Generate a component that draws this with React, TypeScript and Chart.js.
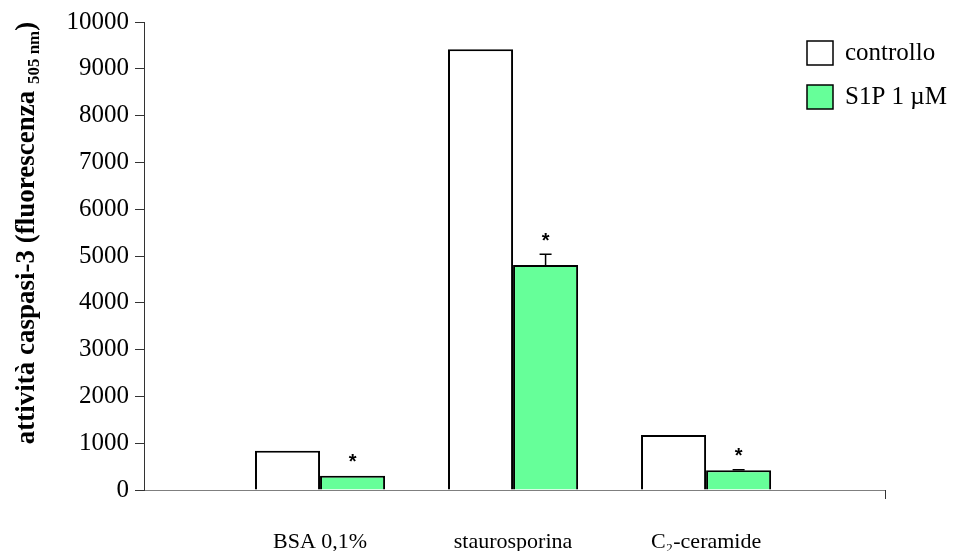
import React, { useEffect, useRef } from 'react';
import { Chart, registerables } from 'chart.js';

Chart.register(...registerables);

// Treatments along the x axis
const categories = ['BSA 0,1%', 'staurosporina', 'C₂-ceramide'];
// Series
const seriesLabels = ['controllo', 'S1P 1 µM'];
const controlloValues = [840, 9420, 1175];
const s1pValues = [305, 4810, 420];
const s1pErrors = [0, 230, 12];
const s1pSignificant = [true, true, true];
// Y axis range
const yMin = 0;
const yMax = 10000;
const yStep = 1000;

const SERIF = '"Liberation Serif", "Times New Roman", serif';
const GREEN = '#66ff99';

const overlayPlugin = {
  id: 'overlay',
  afterDatasetsDraw(chart: any) {
    const ctx = chart.ctx;
    const y = chart.scales.y;
    const meta = chart.getDatasetMeta(1);
    ctx.save();
    meta.data.forEach((bar: any, i: number) => {
      const top = y.getPixelForValue(s1pValues[i] + s1pErrors[i]);
      const base = y.getPixelForValue(s1pValues[i]);
      if (s1pErrors[i] > 0) {
        ctx.strokeStyle = '#000';
        ctx.lineWidth = 1.5;
        ctx.beginPath();
        ctx.moveTo(bar.x, base);
        ctx.lineTo(bar.x, top);
        ctx.moveTo(bar.x - 6, top);
        ctx.lineTo(bar.x + 6, top);
        ctx.stroke();
      }
      if (s1pSignificant[i]) {
        ctx.fillStyle = '#000';
        ctx.font = 'bold 20px "Liberation Sans", Arial, sans-serif';
        ctx.textAlign = 'center';
        ctx.textBaseline = 'middle';
        ctx.fillText('*', bar.x, top - 13);
      }
    });
    ctx.restore();
  },
  afterDraw(chart: any) {
    const ctx = chart.ctx;
    const area = chart.chartArea;
    ctx.save();
    // closing tick at the right end of the x axis
    ctx.strokeStyle = '#333';
    ctx.lineWidth = 1;
    ctx.beginPath();
    ctx.moveTo(Math.round(area.right) + 0.5, area.bottom);
    ctx.lineTo(Math.round(area.right) + 0.5, area.bottom + 9);
    ctx.stroke();

    // legend
    const fills = ['#ffffff', GREEN];
    seriesLabels.forEach((label, i) => {
      const bx = 807;
      const by = 41 + i * 44;
      ctx.fillStyle = fills[i];
      ctx.fillRect(bx, by, 26, 24);
      ctx.strokeStyle = '#000';
      ctx.lineWidth = 1.5;
      ctx.strokeRect(bx, by, 26, 24);
      ctx.fillStyle = '#000';
      ctx.font = `25px ${SERIF}`;
      ctx.textAlign = 'left';
      ctx.textBaseline = 'middle';
      ctx.fillText(label, 845, by + 12);
    });

    // rotated y axis title with subscript
    const mainFont = `bold 27px ${SERIF}`;
    const subFont = `bold 17px ${SERIF}`;
    const parts = [
      { t: 'attività caspasi-3 (fluorescenza ', f: mainFont, dy: 0 },
      { t: '505 nm', f: subFont, dy: 5 },
      { t: ')', f: mainFont, dy: 0 },
    ];
    let total = 0;
    parts.forEach((p) => {
      ctx.font = p.f;
      total += ctx.measureText(p.t).width;
    });
    ctx.translate(34, 233);
    ctx.rotate(-Math.PI / 2);
    ctx.fillStyle = '#000';
    ctx.textAlign = 'left';
    ctx.textBaseline = 'alphabetic';
    let x = -total / 2;
    parts.forEach((p) => {
      ctx.font = p.f;
      ctx.fillText(p.t, x, p.dy);
      x += ctx.measureText(p.t).width;
    });
    ctx.restore();
  },
};

function App() {
  const canvasRef = useRef<HTMLCanvasElement | null>(null);

  useEffect(() => {
    if (!canvasRef.current) return;
    const chart = new Chart(canvasRef.current, {
      type: 'bar',
      data: {
        datasets: [
          {
            label: seriesLabels[0],
            data: controlloValues.map((v, i) => ({ x: i, y: v })),
            backgroundColor: '#ffffff',
            borderColor: '#000000',
            borderWidth: 2,
          },
          {
            label: seriesLabels[1],
            data: s1pValues.map((v, i) => ({ x: i, y: v })),
            backgroundColor: GREEN,
            borderColor: '#000000',
            borderWidth: 2,
          },
        ],
      },
      options: {
        animation: false,
        responsive: false,
        maintainAspectRatio: false,
        layout: { padding: { left: 0, right: 73, top: 22, bottom: 0 } },
        plugins: {
          legend: { display: false },
          tooltip: { enabled: false },
        },
        datasets: {
          bar: { barPercentage: 1, categoryPercentage: 0.674 },
        },
        scales: {
          x: {
            type: 'linear',
            min: -0.912,
            max: 2.927,
            offset: false,
            grid: { display: false },
            border: { display: true, color: '#7f7f7f', width: 1 },
            ticks: {
              stepSize: 1,
              includeBounds: false,
              autoSkip: false,
              maxRotation: 0,
              padding: 31,
              color: '#000',
              font: { family: SERIF, size: 22 },
              callback: (v: any) => categories[v as number] ?? '',
            },
            afterFit: (s: any) => {
              s.height = 61;
            },
          },
          y: {
            type: 'linear',
            min: yMin,
            max: yMax,
            grid: {
              drawOnChartArea: false,
              drawTicks: true,
              tickLength: 9,
              color: '#333',
            },
            border: { display: true, color: '#333', width: 1 },
            ticks: {
              stepSize: yStep,
              padding: 6,
              color: '#000',
              font: { family: SERIF, size: 25 },
              callback: (v: any) => String(v),
            },
            afterFit: (s: any) => {
              s.width = 144;
            },
          },
        },
      },
      plugins: [overlayPlugin],
    });
    return () => chart.destroy();
  }, []);

  return (
    <div style={{ position: 'absolute', left: 0, top: 0, width: 958, height: 551, background: '#fff' }}>
      <canvas ref={canvasRef} width={958} height={551} style={{ width: 958, height: 551 }} />
    </div>
  );
}

export default App;
